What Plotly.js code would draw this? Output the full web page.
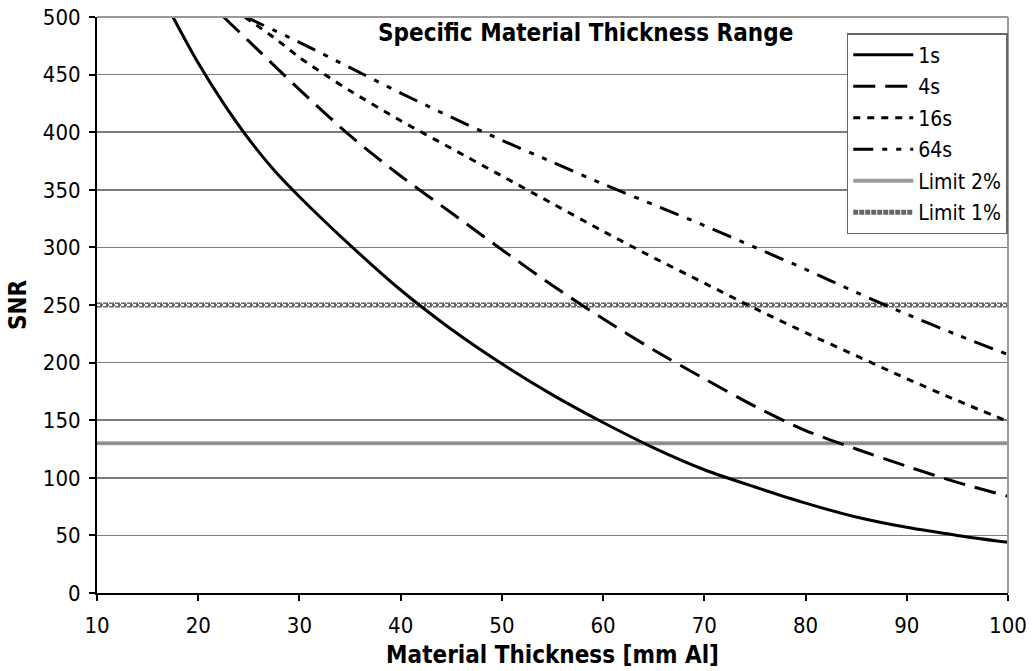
<!DOCTYPE html>
<html>
<head>
<meta charset="utf-8">
<script src="https://cdn.plot.ly/plotly-3.0.1.min.js"></script>
<style>html,body{margin:0;padding:0;background:#fff;}#chart{width:1033px;height:671px;}</style>
</head>
<body>
<div id="chart"></div>
<script>
// Data
const x1s = [17.5, 20, 22.5, 25, 27.5, 30, 35, 40, 45, 50, 55, 60, 65, 70, 75, 80, 85, 90, 95, 100];
const y1s = [500, 460, 425, 394, 367, 344, 302, 263, 229, 199, 172, 148, 126, 107, 92, 78, 66, 57, 50, 44];

const x4s = [22.5, 25, 30, 35, 40, 45, 50, 55, 60, 65, 70, 75, 80, 85, 90, 95, 100];
const y4s = [500, 479, 437, 397, 362, 330, 298, 267, 238, 211, 186, 162, 141, 125, 110, 96, 84];

const x16s = [24.6, 27.5, 30, 32.5, 35, 40, 45, 50, 55, 60, 65, 70, 75, 80, 85, 90, 95, 100];
const y16s = [500, 482, 465, 450, 436, 410, 386, 362, 338, 314, 291, 269, 247, 226, 206, 186, 167, 149];

const x64s = [24.7, 30, 35, 40, 45, 50, 55, 60, 65, 70, 75, 80, 85, 90, 95, 100];
const y64s = [500, 478, 456, 434, 413, 393, 374, 355, 337, 319, 300, 281, 261, 242, 224, 207];

const xLimit = [10, 100];
const yLimit2 = [130, 130];
const yLimit1 = [250, 250];

const seriesNames = ["1s", "4s", "16s", "64s", "Limit 2%", "Limit 1%"];
const xTicks = [10, 20, 30, 40, 50, 60, 70, 80, 90, 100];
const yTicks = [0, 50, 100, 150, 200, 250, 300, 350, 400, 450, 500];

const FONT = "'DejaVu Sans Condensed', 'DejaVu Sans', sans-serif";

const traces = [
  {x: xLimit, y: yLimit2, name: seriesNames[4], mode: "lines", legendgroup: "g5", legendrank: 5,
   line: {color: "#9a9a9a", width: 4}},
  {x: xLimit, y: yLimit2, mode: "lines", showlegend: false, hoverinfo: "skip", legendgroup: "g5",
   line: {color: "#6a6a6a", width: 1.2, dash: "1px,1px"}},
  {x: xLimit, y: yLimit1, name: seriesNames[5], mode: "lines", legendgroup: "g6", legendrank: 6,
   line: {color: "#666666", width: 5, dash: "5px,1px"}},
  {x: xLimit, y: yLimit1, mode: "lines", showlegend: false, hoverinfo: "skip", legendgroup: "g6",
   line: {color: "#ffffff", width: 2, dash: "3px,3px"}},
  {x: x1s, y: y1s, name: seriesNames[0], mode: "lines", legendgroup: "g1", legendrank: 1,
   line: {color: "#000", width: 3, shape: "spline", smoothing: 0.8}},
  {x: x4s, y: y4s, name: seriesNames[1], mode: "lines", legendgroup: "g2", legendrank: 2,
   line: {color: "#000", width: 3, dash: "22px,10px", shape: "spline", smoothing: 0.8}},
  {x: x16s, y: y16s, name: seriesNames[2], mode: "lines", legendgroup: "g3", legendrank: 3,
   line: {color: "#000", width: 3, dash: "7px,7px", shape: "spline", smoothing: 0.8}},
  {x: x64s, y: y64s, name: seriesNames[3], mode: "lines", legendgroup: "g4", legendrank: 4,
   line: {color: "#000", width: 3, dash: "20px,9px,5px,9px,5px,9px", shape: "spline", smoothing: 0.8}}
];

const layout = {
  width: 1033, height: 671,
  margin: {l: 97, r: 25, t: 17, b: 78},
  paper_bgcolor: "#fff", plot_bgcolor: "#fff",
  font: {family: FONT, size: 22, color: "#000"},
  showlegend: true,
  legend: {
    x: 0.823, y: 0.972, xanchor: "left", yanchor: "top",
    bgcolor: "#fff", bordercolor: "#666", borderwidth: 1.5,
    font: {family: FONT, size: 21, color: "#000"},
    itemwidth: 60, traceorder: "grouped", tracegroupgap: 1.2
  },
  xaxis: {
    range: [10, 100], tickvals: xTicks, ticktext: xTicks.map(String),
    showgrid: false, zeroline: false,
    showline: true, linecolor: "#000", linewidth: 2,
    ticks: "outside", ticklen: 6, tickwidth: 2, tickcolor: "#000",
    ticklabelstandoff: 6,
    tickfont: {family: FONT, size: 22},
    title: {text: "<b>Material Thickness [mm Al]</b>", font: {family: FONT, size: 24}, standoff: 9}
  },
  yaxis: {
    range: [0, 500], tickvals: yTicks, ticktext: yTicks.map(String),
    showgrid: true, gridcolor: "#7c7c7c", gridwidth: 1.7, zeroline: false,
    showline: true, linecolor: "#000", linewidth: 2,
    ticks: "outside", ticklen: 6, tickwidth: 2, tickcolor: "#000",
    ticklabelstandoff: 4,
    tickfont: {family: FONT, size: 22}
  },
  shapes: [
    {type: "line", xref: "paper", yref: "paper", x0: 0, x1: 1, y0: 1, y1: 1, line: {color: "#999", width: 2}},
    {type: "line", xref: "paper", yref: "paper", x0: 1, x1: 1, y0: 0, y1: 1, line: {color: "#999", width: 2}}
  ],
  annotations: [
    {text: "<b>Specific Material Thickness Range</b>", xref: "paper", yref: "paper",
     x: 0.536, y: 0.972, xanchor: "center", yanchor: "middle", showarrow: false,
     font: {family: FONT, size: 24, color: "#000"}},
    {text: "<b>SNR</b>", xref: "paper", yref: "paper", textangle: -90,
     x: -0.0867, y: 0.5, xanchor: "center", yanchor: "middle", showarrow: false,
     font: {family: FONT, size: 24, color: "#000"}}
  ]
};

Plotly.newPlot("chart", traces, layout, {displayModeBar: false, staticPlot: true});
</script>
</body>
</html>
